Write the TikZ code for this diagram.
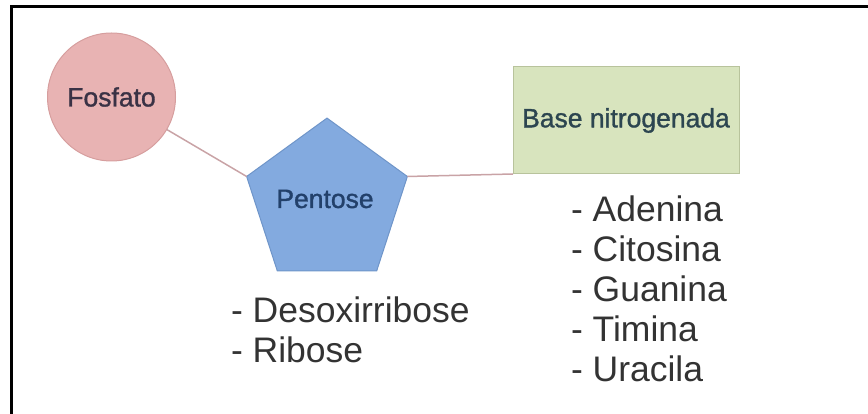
\documentclass[tikz,border=0pt]{standalone}
\usepackage{fontspec}
\setmainfont{Liberation Sans}
\usetikzlibrary{shapes.geometric}

\definecolor{fosfill}{HTML}{E8B3B3}
\definecolor{fosline}{HTML}{D69E9E}
\definecolor{fostext}{HTML}{3A3245}
\definecolor{pentfill}{HTML}{83AADF}
\definecolor{pentline}{HTML}{6F95C9}
\definecolor{penttext}{HTML}{22406A}
\definecolor{basefill}{HTML}{D8E4BE}
\definecolor{baseline}{HTML}{B8C39C}
\definecolor{basetext}{HTML}{2C4550}
\definecolor{conncol}{HTML}{C9A3A6}
\definecolor{listtext}{HTML}{333333}

\newfontfamily\labelfont[FakeBold=1.2]{Liberation Sans}

\tikzset{
  labeltext/.style={font=\labelfont\fontsize{26.5}{30}\selectfont},
  part/.style={inner sep=0pt, outer sep=0pt, line width=1pt, labeltext},
  conn/.style={draw=conncol, line width=1.5pt},
  itemlist/.style={inner sep=0pt, outer sep=0pt, align=left, text=listtext,
    font=\fontsize{35.5}{40}\selectfont},
  frameline/.style={line width=3pt, black}
}

\begin{document}
\begin{tikzpicture}[x=1pt, y=-1pt]
  \useasboundingbox (0,0) rectangle (868,414);

  % frame on the left and top edges
  \coordinate (ftop) at (11,7);
  \coordinate (fbot) at (11,414);
  \coordinate (fright) at (868,7);
  \draw[frameline] (fbot) -- (ftop) -- (fright);

  % the three components of a nucleotide
  \node[part, circle, minimum size=128pt, fill=fosfill, draw=fosline,
        text=fostext] (fos) at (111.5,97) {Fosfato};
  \node[part, regular polygon, regular polygon sides=5, minimum size=169pt,
        fill=pentfill, draw=pentline] (pent) at (327,202.6) {};
  \node[text=penttext, labeltext] (penttxt) at (325,199) {Pentose};
  \node[part, rectangle, minimum width=226pt, minimum height=107pt,
        fill=basefill, draw=baseline, text=basetext] (base) at (626,120.5)
        {Base nitrogenada};

  % bonds
  \draw[conn] (fos) -- (pent.corner 2);
  \draw[conn] (pent.corner 5) -- (base.south west);

  % kinds of each component
  \node[itemlist, anchor=north west] (sugars) at (231,297)
    {- Desoxirribose\\- Ribose};
  \node[itemlist, anchor=north west] (bases) at (571,196)
    {- Adenina\\- Citosina\\- Guanina\\- Timina\\- Uracila};
\end{tikzpicture}
\end{document}
